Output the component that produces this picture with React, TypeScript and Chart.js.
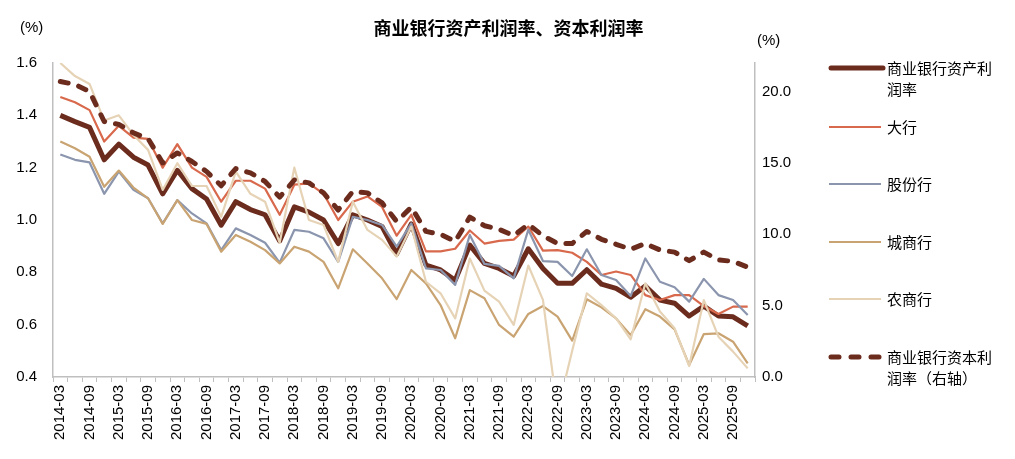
import React, { useEffect, useRef } from "react";
import { Chart, registerables } from "chart.js";

Chart.register(...registerables);

const categories = [
  "2014-03", "2014-06", "2014-09", "2014-12",
  "2015-03", "2015-06", "2015-09", "2015-12",
  "2016-03", "2016-06", "2016-09", "2016-12",
  "2017-03", "2017-06", "2017-09", "2017-12",
  "2018-03", "2018-06", "2018-09", "2018-12",
  "2019-03", "2019-06", "2019-09", "2019-12",
  "2020-03", "2020-06", "2020-09", "2020-12",
  "2021-03", "2021-06", "2021-09", "2021-12",
  "2022-03", "2022-06", "2022-09", "2022-12",
  "2023-03", "2023-06", "2023-09", "2023-12",
  "2024-03", "2024-06", "2024-09", "2024-12",
  "2025-03", "2025-06", "2025-09", "2025-12",
];

// 商业银行资产利润率 (left axis, %)
const roa = [
  1.40, 1.376, 1.354, 1.23, 1.29, 1.24, 1.21, 1.10,
  1.19, 1.12, 1.08, 0.98, 1.07, 1.04, 1.02, 0.92,
  1.05, 1.03, 1.00, 0.91, 1.02, 1.00, 0.975, 0.87,
  0.985, 0.828, 0.809, 0.77, 0.904, 0.834, 0.815, 0.786,
  0.89, 0.815, 0.758, 0.758, 0.81, 0.755, 0.739, 0.705,
  0.748, 0.694, 0.682, 0.633, 0.671, 0.633, 0.63, 0.595,
];

// 大行
const bigBanks = [
  1.47, 1.45, 1.42, 1.30, 1.36, 1.315, 1.31, 1.20,
  1.29, 1.20, 1.165, 1.07, 1.15, 1.15, 1.12, 1.02,
  1.135, 1.14, 1.10, 1.00, 1.07, 1.09, 1.05, 0.94,
  1.02, 0.88, 0.88, 0.89, 0.96, 0.91, 0.92, 0.925,
  0.975, 0.883, 0.885, 0.875, 0.84, 0.79, 0.803, 0.79,
  0.713, 0.694, 0.713, 0.713, 0.671, 0.641, 0.669, 0.669,
];

// 股份行
const jointStock = [
  1.25, 1.23, 1.22, 1.10, 1.185, 1.115, 1.083, 0.987,
  1.076, 1.025, 0.987, 0.885, 0.968, 0.943, 0.913, 0.837,
  0.962, 0.955, 0.93, 0.84, 1.012, 1.0, 0.981, 0.898,
  0.987, 0.815, 0.809, 0.752, 0.943, 0.832, 0.825, 0.777,
  0.963, 0.843, 0.84, 0.786, 0.888, 0.79, 0.771, 0.71,
  0.853, 0.764, 0.743, 0.688, 0.775, 0.713, 0.694, 0.637,
];

// 城商行
const cityBanks = [
  1.30, 1.274, 1.242, 1.127, 1.189, 1.124, 1.083, 0.985,
  1.076, 1.0, 0.985, 0.879, 0.943, 0.917, 0.885, 0.834,
  0.898, 0.879, 0.84, 0.739, 0.888, 0.834, 0.777, 0.698,
  0.809, 0.758, 0.675, 0.548, 0.732, 0.701, 0.599, 0.554,
  0.641, 0.671, 0.631, 0.539, 0.697, 0.666, 0.624, 0.56,
  0.659, 0.631, 0.582, 0.446, 0.564, 0.567, 0.535, 0.452,
];

// 农商行
const ruralBanks = [
  1.60, 1.55, 1.52, 1.38, 1.40, 1.325, 1.268, 1.115,
  1.217, 1.13, 1.13, 1.012, 1.185, 1.10, 1.07, 0.913,
  1.20, 1.0, 0.981, 0.84, 1.07, 0.962, 0.924, 0.86,
  0.975, 0.764, 0.72, 0.624, 0.853, 0.73, 0.688, 0.599,
  0.826, 0.695, 0.27, 0.50, 0.72, 0.675, 0.624, 0.544,
  0.758, 0.65, 0.586, 0.442, 0.694, 0.554, 0.497, 0.433,
];

// 商业银行资本利润率 (right axis, %)
const roe = [
  20.7, 20.5, 20.0, 17.9, 17.7, 17.1, 16.7, 15.0,
  15.7, 15.1, 14.4, 13.4, 14.6, 14.3, 13.7, 12.6,
  13.8, 13.6, 12.9, 11.7, 13.0, 12.9, 12.2, 10.9,
  11.9, 10.2, 10.0, 9.5, 11.2, 10.6, 10.35, 9.9,
  10.7, 9.9, 9.35, 9.35, 10.2, 9.65, 9.3, 8.95,
  9.35, 8.9, 8.75, 8.15, 8.75, 8.2, 8.1, 7.7,
];

const leftTicks = [0.4, 0.6, 0.8, 1.0, 1.2, 1.4, 1.6];
const rightTicks = [0, 5, 10, 15, 20];

const C_ROA = "#6b2c1e";
const C_BIG = "#d8694c";
const C_JS = "#8b96ae";
const C_CITY = "#c9a472";
const C_RURAL = "#e6d3b6";

const AXIS = "#bfbfbf";
const FONT = "'Liberation Sans', Arial, sans-serif";
const CJK = "'Noto Sans CJK SC', sans-serif";

const legendItems = [
  { lines: ["商业银行资产利", "润率"], color: C_ROA, width: 5, dash: false, y: 68 },
  { lines: ["大行"], color: C_BIG, width: 2, dash: false, y: 127 },
  { lines: ["股份行"], color: C_JS, width: 2, dash: false, y: 184 },
  { lines: ["城商行"], color: C_CITY, width: 2, dash: false, y: 242 },
  { lines: ["农商行"], color: C_RURAL, width: 2, dash: false, y: 299 },
  { lines: ["商业银行资本利", "润率（右轴）"], color: C_ROA, width: 5, dash: true, y: 357 },
];

export default function App() {
  const ref = useRef<HTMLCanvasElement>(null);

  useEffect(() => {
    const canvas = ref.current;
    if (!canvas) return;
    const line = (label: string, data: number[], color: string, width: number, order: number, axis = "y", dash: number[] = []) => ({
      label,
      data,
      borderColor: color,
      backgroundColor: color,
      borderWidth: width,
      borderDash: dash,
      borderCapStyle: dash.length ? "round" : "butt",
      borderJoinStyle: "round",
      pointRadius: 0,
      tension: 0,
      fill: false,
      yAxisID: axis,
      order,
    });
    const chart = new Chart(canvas, {
      type: "line",
      data: {
        labels: categories,
        datasets: [
          line("商业银行资本利润率（右轴）", roe, C_ROA, 5, 1, "y1", [8, 11]),
          line("农商行", ruralBanks, C_RURAL, 2.2, 2),
          line("城商行", cityBanks, C_CITY, 2.2, 3),
          line("股份行", jointStock, C_JS, 2.2, 4),
          line("大行", bigBanks, C_BIG, 2.2, 5),
          line("商业银行资产利润率", roa, C_ROA, 5, 6),
        ] as any,
      },
      options: {
        responsive: false,
        animation: false,
        layout: { padding: { top: 63, left: 0, right: 215, bottom: 0 } },
        plugins: {
          legend: { display: false },
          tooltip: { enabled: false },
          title: { display: false },
        },
        scales: {
          x: {
            type: "category",
            offset: true,
            grid: {
              drawOnChartArea: false,
              offset: true,
              tickLength: 5,
              color: AXIS,
              lineWidth: 1,
            },
            border: { color: AXIS, width: 1.5 },
            ticks: {
              autoSkip: false,
              maxRotation: 90,
              minRotation: 90,
              padding: 3,
              color: "#000",
              font: { family: FONT, size: 15 },
              callback: (_v: any, i: number) => (i % 2 === 0 ? categories[i] : ""),
            },
            afterFit: (s: any) => {
              s.height = 82;
            },
          },
          y: {
            position: "left",
            min: 0.4,
            max: 1.6,
            grid: { drawOnChartArea: false, drawTicks: false },
            border: { color: AXIS, width: 1.5 },
            afterBuildTicks: (s: any) => {
              s.ticks = leftTicks.map((v) => ({ value: v }));
            },
            ticks: {
              padding: 16,
              color: "#000",
              font: { family: FONT, size: 15 },
              callback: (v: any) => Number(v).toFixed(1),
            },
            afterFit: (s: any) => {
              s.width = 53;
            },
          },
          y1: {
            position: "right",
            min: 0,
            max: 22,
            grid: { drawOnChartArea: false, drawTicks: false },
            border: { color: AXIS, width: 1.5 },
            afterBuildTicks: (s: any) => {
              s.ticks = rightTicks.map((v) => ({ value: v }));
            },
            ticks: {
              padding: 7,
              color: "#000",
              font: { family: FONT, size: 15 },
              callback: (v: any) => Number(v).toFixed(1),
            },
            afterFit: (s: any) => {
              s.width = 45;
            },
          },
        },
      } as any,
    });
    return () => chart.destroy();
  }, []);

  return (
    <div style={{ position: "absolute", left: 0, top: 0, width: 1015, height: 459, background: "#fff", overflow: "hidden" }}>
      <canvas ref={ref} width={1015} height={459} style={{ position: "absolute", left: 0, top: 0, width: 1015, height: 459 }} />
      <div
        style={{
          position: "absolute",
          left: 0,
          width: 1015,
          top: 16,
          textAlign: "center",
          fontFamily: CJK,
          fontWeight: 700,
          fontSize: 18,
          lineHeight: "22px",
          color: "#000",
          paddingLeft: 0,
        }}
      >
        <span style={{ position: "relative", left: 1 }}>商业银行资产利润率、资本利润率</span>
      </div>
      <div style={{ position: "absolute", left: 20, top: 18, fontFamily: FONT, fontSize: 15, lineHeight: "18px", color: "#000" }}>(%)</div>
      <div style={{ position: "absolute", left: 757, top: 31, fontFamily: FONT, fontSize: 15, lineHeight: "18px", color: "#000" }}>(%)</div>
      {legendItems.map((it, k) => (
        <div key={k}>
          <svg style={{ position: "absolute", left: 826, top: it.y - 6, width: 62, height: 12 }} width={62} height={12}>
            <line
              x1={it.dash ? 5 : it.width > 3 ? 5 : 3}
              x2={it.dash ? 57 : it.width > 3 ? 57 : 55}
              y1={6}
              y2={6}
              stroke={it.color}
              strokeWidth={it.width}
              strokeLinecap={it.width > 3 ? "round" : "butt"}
              strokeDasharray={it.dash ? "8 12" : undefined}
            />
          </svg>
          <div
            style={{
              position: "absolute",
              left: 887,
              top: it.y - 11,
              fontFamily: CJK,
              fontSize: 15,
              lineHeight: "21px",
              color: "#000",
              whiteSpace: "nowrap",
            }}
          >
            {it.lines.map((t, j) => (
              <div key={j}>{t}</div>
            ))}
          </div>
        </div>
      ))}
    </div>
  );
}
